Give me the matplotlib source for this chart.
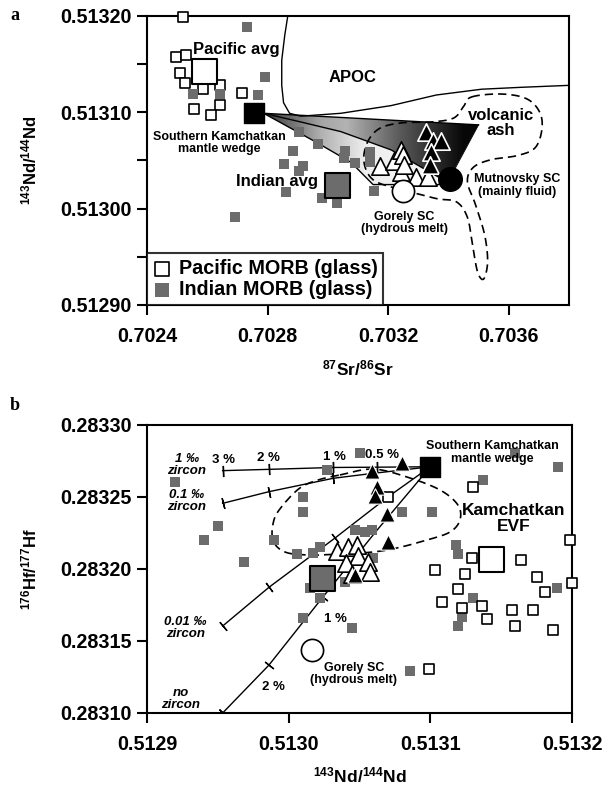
import numpy as np
import matplotlib
matplotlib.use("Agg")
import matplotlib.pyplot as plt
from matplotlib.patches import Polygon
from matplotlib.ticker import FormatStrFormatter, MultipleLocator

plt.rcParams["font.family"] = ["Liberation Sans", "DejaVu Sans"]
plt.rcParams["font.weight"] = "bold"
plt.rcParams["mathtext.fontset"] = "custom"
plt.rcParams["mathtext.bf"] = "Liberation Sans:bold"
plt.rcParams["mathtext.rm"] = "Liberation Sans:bold"
plt.rcParams["mathtext.default"] = "bf"

GRAY = "#6c6c6c"

# ---------------- panel a: 87Sr/86Sr vs 143Nd/144Nd ----------------
pac_sr = [0.702521, 0.702497, 0.702530, 0.702510, 0.702527, 0.702586, 0.702641,
          0.702716, 0.702641, 0.702557, 0.702612]
pac_nd = [0.513199, 0.513157, 0.513160, 0.513141, 0.513130, 0.513124, 0.513128,
          0.513120, 0.513108, 0.513103, 0.513097]
ind_sr = [0.702732, 0.702793, 0.702769, 0.702554, 0.702643, 0.702904, 0.702966,
          0.702886, 0.702854, 0.702916, 0.702904, 0.702860, 0.703057, 0.703054,
          0.703089, 0.703141, 0.703141, 0.703152, 0.702693, 0.702982, 0.703030]
ind_nd = [0.513189, 0.513137, 0.513118, 0.513119, 0.513119, 0.513080, 0.513067,
          0.513060, 0.513046, 0.513044, 0.513039, 0.513017, 0.513060, 0.513053,
          0.513047, 0.513059, 0.513048, 0.513018, 0.512991, 0.513011, 0.513006]
pac_avg_a = (0.702588, 0.513143)
ind_avg_a = (0.703030, 0.513025)
wedge_a = (0.702754, 0.513099)
gorely_a = (0.703249, 0.513018)
mutnovsky_a = (0.703404, 0.513031)

tri_open_sr = [0.703173, 0.703221, 0.703243, 0.703249, 0.703243, 0.703293, 0.703332, 0.703253]
tri_open_nd = [0.513044, 0.513049, 0.513061, 0.513056, 0.513038, 0.513033, 0.513033, 0.513045]
tri_dark_sr = [0.703327, 0.703349, 0.703377, 0.703343, 0.703338]
tri_dark_nd = [0.513080, 0.513070, 0.513070, 0.513059, 0.513045]

# mixing fan between mantle wedge and slab components
fan_top_sr = [0.702787, 0.703500]
fan_top_nd = [0.513099, 0.513087]
fan_mid_sr = [0.702787, 0.702910, 0.703043, 0.703210, 0.703366, 0.703403]
fan_mid_nd = [0.513099, 0.513090, 0.513080, 0.513061, 0.513033, 0.513031]
fan_low_sr = [0.702787, 0.702967, 0.703077, 0.703150, 0.703367, 0.703403]
fan_low_nd = [0.513099, 0.513068, 0.513048, 0.513025, 0.513025, 0.513031]

apoc_sr = [0.702867, 0.702857, 0.702847, 0.702847, 0.702853, 0.702873, 0.702910,
           0.703043, 0.703210, 0.703360, 0.703510, 0.703643, 0.703800]
apoc_nd = [0.513200, 0.513180, 0.513154, 0.513128, 0.513110, 0.513099, 0.513096,
           0.513099, 0.513107, 0.513118, 0.513124, 0.513126, 0.513128]

ash_sr = [0.703477, 0.703577, 0.703660, 0.703703, 0.703710, 0.703687, 0.703627,
          0.703543, 0.703483, 0.703463, 0.703490, 0.703520, 0.703530, 0.703517,
          0.703497, 0.703480, 0.703463, 0.703427, 0.703367, 0.703303, 0.703227,
          0.703150, 0.703120, 0.703130, 0.703170, 0.703243, 0.703343, 0.703417,
          0.703450]
ash_nd = [0.513116, 0.513119, 0.513114, 0.513100, 0.513082, 0.513063, 0.513055,
          0.513051, 0.513043, 0.513028, 0.513004, 0.512973, 0.512945, 0.512927,
          0.512934, 0.512962, 0.512991, 0.513007, 0.513010, 0.513015, 0.513021,
          0.513030, 0.513048, 0.513068, 0.513083, 0.513089, 0.513090, 0.513094,
          0.513106]

# ---------------- panel b: 143Nd/144Nd vs 176Hf/177Hf ----------------
pac_nd_b = [0.5131303, 0.5130703, 0.5131986, 0.5132002, 0.5131292, 0.5131638,
            0.5131033, 0.5131245, 0.5131197, 0.5131751, 0.5131809, 0.5131080,
            0.5131221, 0.5131363, 0.5131574, 0.5131723, 0.5131398, 0.5131598,
            0.5131868, 0.5130991]
pac_hf_b = [0.2832572, 0.2832502, 0.2832201, 0.2831905, 0.2832074, 0.2832063,
            0.2831993, 0.2831965, 0.2831859, 0.2831942, 0.2831842, 0.2831773,
            0.2831731, 0.2831743, 0.2831715, 0.2831715, 0.2831651, 0.2831604,
            0.2831576, 0.2831306]
ind_nd_b = [0.5129198, 0.5130099, 0.5130099, 0.5129499, 0.5129402, 0.5129896,
            0.5129687, 0.5130057, 0.5130170, 0.5130221, 0.5130268, 0.5130503,
            0.5130468, 0.5130539, 0.5130586, 0.5130151, 0.5130221, 0.5130103,
            0.5130445, 0.5130398, 0.5130597, 0.5130856, 0.5130798, 0.5131010,
            0.5131598, 0.5131903, 0.5131370, 0.5131181, 0.5131197, 0.5131303,
            0.5131221, 0.5131197, 0.5131892]
ind_hf_b = [0.2832606, 0.2832502, 0.2832398, 0.2832301, 0.2832201, 0.2832201,
            0.2832051, 0.2832104, 0.2832113, 0.2832155, 0.2832688, 0.2832803,
            0.2832271, 0.2832259, 0.2832271, 0.2831866, 0.2831797, 0.2831658,
            0.2831588, 0.2831912, 0.2832074, 0.2831294, 0.2832398, 0.2832398,
            0.2832803, 0.2832706, 0.2832618, 0.2832167, 0.2832104, 0.2831797,
            0.2831665, 0.2831604, 0.2831866]
pac_avg_b = (0.5131428, 0.2832069)
ind_avg_b = (0.5130233, 0.2831940)
wedge_b = (0.5131000, 0.2832710)
gorely_b = (0.5130163, 0.2831438)

tri_open_nd_b = [0.5130341, 0.5130419, 0.5130482, 0.5130489, 0.5130405, 0.5130560,
                 0.5130574, 0.5130447]
tri_open_hf_b = [0.2832125, 0.2832153, 0.2832167, 0.2832090, 0.2832042, 0.2832049,
                 0.2831979, 0.2831965]
tri_black_nd_b = [0.5130798, 0.5130588, 0.5130624, 0.5130610, 0.5130694, 0.5130701, 0.5130468]
tri_black_hf_b = [0.2832736, 0.2832681, 0.2832569, 0.2832507, 0.2832382, 0.2832188, 0.2831958]

# melting curves (mantle wedge + slab melt); the first points carry % tick marks
mix_1 = ([0.5129534, 0.5129861, 0.5130313, 0.5130620, 0.5131000],
         [0.2832683, 0.2832692, 0.2832705, 0.2832707, 0.2832710])
mix_01 = ([0.5129534, 0.5129861, 0.5130315, 0.5130560, 0.5131000],
          [0.2832456, 0.2832537, 0.2832630, 0.2832660, 0.2832710])
mix_001 = ([0.5129534, 0.5129861, 0.5130327, 0.5130703, 0.5131000],
           [0.2831604, 0.2831873, 0.2832215, 0.2832502, 0.2832710])
mix_0 = ([0.5129534, 0.5129861, 0.5130242, 0.5130624, 0.5131000],
         [0.2831000, 0.2831333, 0.2831806, 0.2832270, 0.2832710])
mix_ticks = [4, 3, 3, 3]

evf_nd = [0.5130362, 0.5130595, 0.5130835, 0.5131068, 0.5131195, 0.5131209,
          0.5131139, 0.5130976, 0.5130765, 0.5130595, 0.5130362, 0.5130151,
          0.5129974, 0.5129889, 0.5129896, 0.5129960, 0.5130080, 0.5130207]
evf_hf = [0.2832653, 0.2832694, 0.2832639, 0.2832549, 0.2832444, 0.2832340,
          0.2832257, 0.2832201, 0.2832146, 0.2832118, 0.2832104, 0.2832097,
          0.2832118, 0.2832201, 0.2832340, 0.2832444, 0.2832563, 0.2832618]


def smooth_closed(xs, ys, n=16):
    p = np.column_stack([xs, ys])
    m = len(p)
    t = np.linspace(0, 1, n, endpoint=False)[:, None]
    segs = []
    for i in range(m):
        p0, p1, p2, p3 = p[i - 1], p[i], p[(i + 1) % m], p[(i + 2) % m]
        segs.append(0.5 * (2 * p1 + (-p0 + p2) * t
                           + (2 * p0 - 5 * p1 + 4 * p2 - p3) * t ** 2
                           + (-p0 + 3 * p1 - 3 * p2 + p3) * t ** 3))
    out = np.vstack(segs + [segs[0][:1]])
    return out[:, 0], out[:, 1]


def gradient_patch(ax, xs, ys, stops_x, stops_v):
    poly = Polygon(np.column_stack([xs, ys]), closed=True, facecolor="none",
                   edgecolor="none")
    ax.add_patch(poly)
    xg = np.linspace(min(xs), max(xs), 400)
    row = np.interp(xg, stops_x, stops_v)
    im = ax.imshow(np.tile(row, (2, 1)), cmap="gray", vmin=0, vmax=1,
                   extent=[min(xs), max(xs), min(ys), max(ys)], origin="lower",
                   aspect="auto", interpolation="bilinear", zorder=1)
    im.set_clip_path(poly)


def style_axes(ax):
    for s in ax.spines.values():
        s.set_linewidth(1.5)
    ax.tick_params(axis="x", direction="out", length=7, width=1.5, labelsize=14.2, pad=9)
    ax.tick_params(axis="y", direction="out", length=7, width=1.5, labelsize=14.2, pad=4)
    ax.tick_params(which="minor", direction="out", length=7, width=1.5)
    for lab in ax.get_xticklabels() + ax.get_yticklabels():
        lab.set_fontweight("bold")


fig = plt.figure(figsize=(6.16, 7.88), dpi=100)
ax1 = fig.add_axes([147 / 616, 1 - 305 / 788, 422 / 616, 289 / 788])
ax2 = fig.add_axes([147 / 616, 1 - 713 / 788, 425 / 616, 288 / 788])

sq = 6.5 ** 2
# ---- panel a ----
up_x = fan_top_sr + fan_mid_sr[::-1]
up_y = fan_top_nd + fan_mid_nd[::-1]
gradient_patch(ax1, up_x, up_y, [0.70278, 0.70298, 0.70306, 0.70324, 0.70345],
               [0.2, 0.65, 0.7, 0.35, 0.03])
low_x = fan_mid_sr + fan_low_sr[::-1]
low_y = fan_mid_nd + fan_low_nd[::-1]
gradient_patch(ax1, low_x, low_y, [0.70278, 0.70298, 0.70312, 0.70340],
               [0.2, 0.7, 0.93, 0.97])
for fx, fy in [(fan_top_sr, fan_top_nd), (fan_mid_sr, fan_mid_nd), (fan_low_sr, fan_low_nd)]:
    ax1.plot(fx, fy, color="black", lw=1.0, zorder=2)
ax1.plot([fan_top_sr[-1], mutnovsky_a[0]], [fan_top_nd[-1], mutnovsky_a[1]],
         color="black", lw=0.6, zorder=2)
ax1.plot(apoc_sr, apoc_nd, color="black", lw=1.0, zorder=2)
ax_x, ax_y = smooth_closed(ash_sr, ash_nd)
ax1.plot(ax_x, ax_y, color="black", lw=1.2, ls=(0, (5, 3)), zorder=3)

ax1.scatter(pac_sr, pac_nd, s=sq, marker="s", facecolor="white", edgecolor="black",
            lw=1.2, zorder=4, clip_on=False)
ax1.scatter(ind_sr, ind_nd, s=sq, marker="s", color=GRAY, lw=0, zorder=4)
ax1.scatter(*pac_avg_a, s=18 ** 2, marker="s", facecolor="white", edgecolor="black",
            lw=1.5, zorder=5)
ax1.scatter(*ind_avg_a, s=18 ** 2, marker="s", facecolor=GRAY, edgecolor="black",
            lw=1.5, zorder=5)
ax1.scatter(*wedge_a, s=14 ** 2, marker="s", color="black", zorder=5)
ax1.scatter(tri_open_sr, tri_open_nd, s=12.5 ** 2, marker="^", facecolor="white",
            edgecolor="black", lw=1.2, zorder=5)
ax1.scatter(tri_dark_sr, tri_dark_nd, s=12.5 ** 2, marker="^", facecolor="black",
            edgecolor="white", lw=1.2, zorder=5)
ax1.scatter(*gorely_a, s=16 ** 2, marker="o", facecolor="white", edgecolor="black",
            lw=1.2, zorder=6)
ax1.scatter(*mutnovsky_a, s=17 ** 2, marker="o", color="black", zorder=6)

big = dict(fontsize=12, fontweight="bold", ha="center", va="center", zorder=7)
small = dict(fontsize=9, fontweight="bold", ha="center", va="center",
             linespacing=1.05, zorder=7)
ax1.text(0.702695, 0.513165, "Pacific avg", **big)
ax1.text(0.703082, 0.513136, "APOC", **big)
ax1.text(0.702831, 0.513028, "Indian avg", **big)
ax1.text(0.703574, 0.513089, "volcanic\nash", linespacing=1.0, **big)
ax1.text(0.702641, 0.513068, "Southern Kamchatkan\nmantle wedge", **small)
ax1.text(0.703627, 0.513024, "Mutnovsky SC\n(mainly fluid)", **small)
ax1.text(0.703254, 0.512985, "Gorely SC\n(hydrous melt)", **small)

h1 = ax1.scatter([], [], s=9.5 ** 2, marker="s", facecolor="white", edgecolor="black", lw=1.2)
h2 = ax1.scatter([], [], s=9.5 ** 2, marker="s", color=GRAY, lw=0)
leg = ax1.legend([h1, h2], ["Pacific MORB (glass)", "Indian MORB (glass)"],
                 loc="lower left", borderaxespad=0, frameon=True, fancybox=False,
                 handlelength=0.9, handletextpad=0.4, labelspacing=0.1,
                 borderpad=0.3, prop=dict(size=14.2, weight="bold"))
leg.get_frame().set_edgecolor("black")
leg.get_frame().set_linewidth(1.5)
leg.set_zorder(8)

ax1.set_xlim(0.7024, 0.7038)
ax1.set_ylim(0.5129, 0.5132)
ax1.set_xticks([0.7024, 0.7028, 0.7032, 0.7036])
ax1.set_yticks([0.5129, 0.5130, 0.5131, 0.5132])
ax1.yaxis.set_minor_locator(MultipleLocator(0.00005))
ax1.xaxis.set_major_formatter(FormatStrFormatter("%.4f"))
ax1.yaxis.set_major_formatter(FormatStrFormatter("%.5f"))
ax1.set_xlabel(r"$^{87}$Sr/$^{86}$Sr", fontsize=12.5, fontweight="bold", labelpad=9)
ax1.set_ylabel(r"$^{143}$Nd/$^{144}$Nd", fontsize=12, fontweight="bold", labelpad=15)
style_axes(ax1)

# ---- panel b ----
ax2.set_xlim(0.5129, 0.5132)
ax2.set_ylim(0.2831, 0.2833)
for (mx, my), nt in zip([mix_1, mix_01, mix_001, mix_0], mix_ticks):
    ax2.plot(mx, my, color="black", lw=1.0, zorder=2)
    pts = ax2.transData.transform(np.column_stack([mx, my]))
    for i in range(nt):
        d = pts[i + 1] - pts[i]
        ang = np.degrees(np.arctan2(d[1], d[0]))
        ax2.plot(mx[i], my[i], ls="none", marker=(2, 2, ang), ms=8, mew=1.0,
                 color="black", zorder=2)
ex, ey = smooth_closed(evf_nd, evf_hf)
ax2.plot(ex, ey, color="black", lw=1.2, ls=(0, (5, 3)), zorder=3)

ax2.scatter(ind_nd_b, ind_hf_b, s=sq, marker="s", color=GRAY, lw=0, zorder=4)
ax2.scatter(pac_nd_b, pac_hf_b, s=sq, marker="s", facecolor="white", edgecolor="black",
            lw=1.2, zorder=4, clip_on=False)
ax2.scatter(*pac_avg_b, s=18 ** 2, marker="s", facecolor="white", edgecolor="black",
            lw=1.5, zorder=5)
ax2.scatter(*ind_avg_b, s=18 ** 2, marker="s", facecolor=GRAY, edgecolor="black",
            lw=1.5, zorder=5)
ax2.scatter(tri_open_nd_b, tri_open_hf_b, s=12.5 ** 2, marker="^", facecolor="white",
            edgecolor="black", lw=1.2, zorder=5)
ax2.scatter(tri_black_nd_b, tri_black_hf_b, s=11 ** 2, marker="^", facecolor="black",
            edgecolor="white", lw=0.8, zorder=6)
ax2.scatter(*wedge_b, s=14 ** 2, marker="s", color="black", zorder=6)
ax2.scatter(*gorely_b, s=16 ** 2, marker="o", facecolor="white", edgecolor="black",
            lw=1.2, zorder=6)

ital = dict(fontsize=9.5, fontweight="bold", style="italic", ha="center", va="center",
            linespacing=1.0, zorder=7)
pct = dict(fontsize=9.5, fontweight="bold", ha="center", va="center", zorder=7)
ax2.text(0.512928, 0.283272, "1 \u2030\nzircon", **ital)
ax2.text(0.512928, 0.283247, "0.1 \u2030\nzircon", **ital)
ax2.text(0.512927, 0.283159, "0.01 \u2030\nzircon", **ital)
ax2.text(0.512924, 0.283110, "no\nzircon", **ital)
ax2.text(0.512954, 0.283276, "3 %", **pct)
ax2.text(0.512986, 0.283277, "2 %", **pct)
ax2.text(0.513032, 0.283278, "1 %", **pct)
ax2.text(0.513066, 0.283279, "0.5 %", **pct)
ax2.text(0.513033, 0.283165, "1 %", **pct)
ax2.text(0.512989, 0.283118, "2 %", **pct)
ax2.text(0.513046, 0.283127, "Gorely SC\n(hydrous melt)", **small)
ax2.text(0.513144, 0.283281, "Southern Kamchatkan\nmantle wedge", **small)
ax2.text(0.513159, 0.283235, "Kamchatkan\nEVF", fontsize=12.5, fontweight="bold",
         ha="center", va="center", linespacing=1.1, zorder=7)

ax2.set_xticks([0.5129, 0.5130, 0.5131, 0.5132])
ax2.set_yticks([0.28310, 0.28315, 0.28320, 0.28325, 0.28330])
ax2.xaxis.set_major_formatter(FormatStrFormatter("%.4f"))
ax2.yaxis.set_major_formatter(FormatStrFormatter("%.5f"))
ax2.set_xlabel(r"$^{143}$Nd/$^{144}$Nd", fontsize=12.5, fontweight="bold", labelpad=8)
ax2.set_ylabel(r"$^{176}$Hf/$^{177}$Hf", fontsize=12, fontweight="bold", labelpad=15)
style_axes(ax2)

fig.text(15 / 616, 1 - 15 / 788, "a", fontsize=13, fontweight="bold",
         family="Liberation Serif", ha="center", va="center")
fig.text(15 / 616, 1 - 405 / 788, "b", fontsize=13, fontweight="bold",
         family="Liberation Serif", ha="center", va="center")

fig.savefig("out.png", dpi=100)
